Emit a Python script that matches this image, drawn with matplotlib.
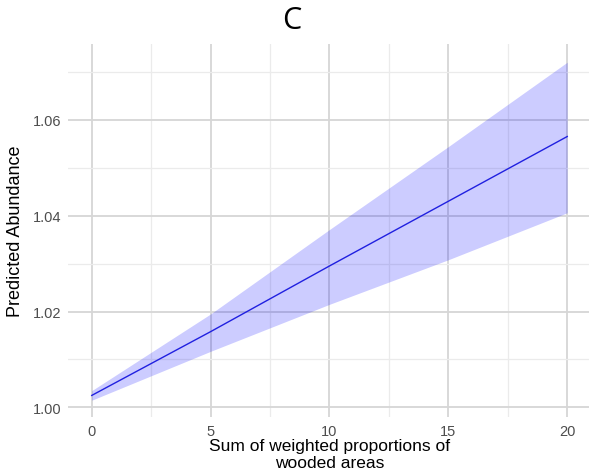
import matplotlib
matplotlib.use("Agg")
import matplotlib.pyplot as plt
import numpy as np

# values
x = [0, 5, 10, 15, 20]
fit = [1.0025, 1.0158, 1.0295, 1.0430, 1.0565]
upper = [1.0035, 1.0195, 1.0371, 1.0544, 1.0720]
lower = [1.0015, 1.0117, 1.0215, 1.0308, 1.0406]

xticks = [0, 5, 10, 15, 20]
yticks = [1.00, 1.02, 1.04, 1.06]
ytick_labels = ["1.00", "1.02", "1.04", "1.06"]

plt.rcParams["font.family"] = ["Liberation Sans", "DejaVu Sans"]

fig = plt.figure(figsize=(5.89, 4.77), dpi=100)
ax = fig.add_axes([0.1154, 0.1237, 0.888, 0.782])

ax.fill_between(x, lower, upper, color="#0000ff", alpha=0.2, linewidth=0)
ax.plot(x, fit, color="#2020e0", linewidth=1.0)

ax.set_xlim(-1, 21)
ax.set_ylim(0.998, 1.0758)
ax.set_xticks(xticks)
ax.set_yticks(yticks)
ax.set_yticklabels(ytick_labels)
ax.set_xticks([2.5, 7.5, 12.5, 17.5], minor=True)
ax.set_yticks([1.01, 1.03, 1.05, 1.07], minor=True)

ax.grid(which="major", color="#d6d6d6", linewidth=1.3)
ax.grid(which="minor", color="#ebebeb", linewidth=0.9)
ax.set_axisbelow(True)
for s in ax.spines.values():
    s.set_visible(False)
ax.tick_params(which="both", length=0, labelsize=10.5, labelcolor="#4d4d4d", pad=5)

ax.set_xlabel("Sum of weighted proportions of\nwooded areas", fontsize=12.5,
              labelpad=0, linespacing=1.2)
ax.set_ylabel("Predicted Abundance", fontsize=13, labelpad=6)

fig.text(0.496, 0.955, "C", fontsize=22, ha="center", va="center", family=["Open Sans", "DejaVu Sans"])

fig.savefig("out.png", dpi=100)
